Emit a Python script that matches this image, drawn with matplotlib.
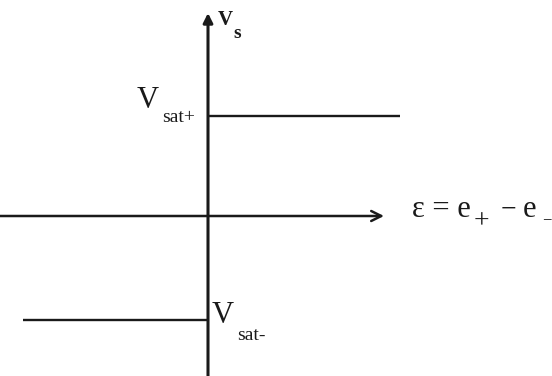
import matplotlib
matplotlib.use('Agg')
import matplotlib.pyplot as plt

# comparator transfer characteristic (units: one saturation level = 1)
eps_neg = [-1.85, 0.0]      # epsilon range of the low branch
eps_pos = [0.0, 1.92]       # epsilon range of the high branch
vsat_plus = 1.0
vsat_minus = -1.04

plt.rcParams['font.family'] = ['Liberation Serif', 'DejaVu Serif']

fig = plt.figure(figsize=(5.52, 3.76), dpi=100, facecolor='white')
ax = fig.add_axes([0, 0, 1, 1])
ax.set_xlim(-2.08, 3.44)
ax.set_ylim(-1.60, 2.16)
ax.axis('off')

ink = '#1a1a1a'

# axes with arrows
ax.annotate('', xy=(1.76, 0), xytext=(-2.1, 0),
            arrowprops=dict(arrowstyle='->', color=ink, lw=1.8,
                            mutation_scale=18, shrinkA=0, shrinkB=0))
ax.annotate('', xy=(0, 2.03), xytext=(0, -1.62),
            arrowprops=dict(arrowstyle='-|>', color=ink, lw=2.2,
                            mutation_scale=14, shrinkA=0, shrinkB=0))

# saturation branches
ax.plot(eps_pos, [vsat_plus, vsat_plus], color=ink, lw=1.7, solid_capstyle='butt')
ax.plot(eps_neg, [vsat_minus, vsat_minus], color=ink, lw=1.7, solid_capstyle='butt')

# labels
ax.text(0.10, 1.91, 'V', fontsize=15, fontweight='bold', color=ink, ha='left', va='baseline')
ax.text(0.25, 1.78, 's', fontsize=14, fontweight='bold', color=ink, ha='left', va='baseline')

ax.text(-0.71, 1.08, 'V', fontsize=22, color=ink, ha='left', va='baseline')
ax.text(-0.46, 0.94, 'sat+', fontsize=14, color=ink, ha='left', va='baseline')

ax.text(0.04, -1.07, 'V', fontsize=22, color=ink, ha='left', va='baseline')
ax.text(0.29, -1.24, 'sat-', fontsize=14, color=ink, ha='left', va='baseline')

ax.text(2.04, -0.01, 'ε = e', fontsize=22, color=ink, ha='left', va='baseline')
ax.text(2.66, -0.12, '+', fontsize=20, color=ink, ha='left', va='baseline')
ax.text(2.93, -0.01, '−', fontsize=20, color=ink, ha='left', va='baseline')
ax.text(3.15, -0.01, 'e', fontsize=22, color=ink, ha='left', va='baseline')
ax.text(3.34, -0.08, '−', fontsize=12, color=ink, ha='left', va='baseline')

fig.savefig('out.png', dpi=100, facecolor='white')
